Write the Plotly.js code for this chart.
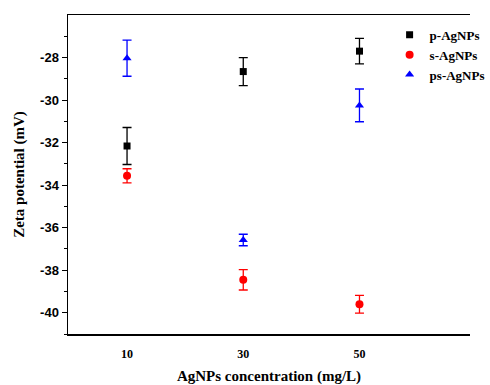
<!DOCTYPE html>
<html>
<head>
<meta charset="utf-8">
<script src="https://cdn.plot.ly/plotly-3.0.1.min.js"></script>
<style>html,body{margin:0;padding:0;background:#fff;}</style>
</head>
<body>
<div id="chart" style="width:490px;height:385px;"></div>
<script>
const concentrations = [10, 30, 50];
const pValues = [-32.16, -28.66, -27.70];
const pErrors = [0.87, 0.66, 0.60];
const sValues = [-33.56, -38.45, -39.60];
const sErrors = [0.33, 0.48, 0.42];
const psValues = [-28.03, -36.58, -30.25];
const psErrors = [0.85, 0.27, 0.77];
const xTickLabels = ['10', '30', '50'];
const yTickValues = [-40, -38, -36, -34, -32, -30, -28];
const yTickLabels = ['-40', '-38', '-36', '-34', '-32', '-30', '-28'];

function series(name, y, err, color, symbol, size) {
  return {
    type: 'scatter', mode: 'markers', name: name,
    x: concentrations, y: y,
    marker: {color: color, symbol: symbol, size: size},
    error_y: {type: 'data', array: err, visible: true, color: color, thickness: 1.3, width: 4.5}
  };
}

const data = [
  series('p-AgNPs', pValues, pErrors, '#000000', 'square', 7),
  series('s-AgNPs', sValues, sErrors, '#ff0000', 'circle', 8),
  series('ps-AgNPs', psValues, psErrors, '#0000ff', 'triangle-up', 8)
];

const layout = {
  width: 490, height: 385,
  margin: {l: 68, r: 0, t: 15, b: 51},
  paper_bgcolor: '#fff', plot_bgcolor: '#fff',
  showlegend: true,
  legend: {x: 0.8, y: 0.985, xanchor: 'left', yanchor: 'top', bgcolor: 'rgba(0,0,0,0)',
           font: {family: 'Liberation Serif, Times New Roman, serif', size: 13, color: '#000', weight: 'bold'},
           itemwidth: 30, tracegroupgap: 0},
  xaxis: {
    range: [-0.16, 69.02], tickmode: 'array', tickvals: concentrations, ticktext: xTickLabels,
    showgrid: false, zeroline: false, showline: true, linecolor: '#000', linewidth: 1.5,
    mirror: true, ticks: '', ticklabelstandoff: 8,
    tickfont: {family: 'Liberation Serif, Times New Roman, serif', size: 12, color: '#000', weight: 'bold'},
    title: {text: 'AgNPs concentration (mg/L)', standoff: 10,
            font: {family: 'Liberation Serif, Times New Roman, serif', size: 15, color: '#000', weight: 'bold'}}
  },
  yaxis: {
    range: [-41, -26], tickmode: 'array', tickvals: yTickValues, ticktext: yTickLabels,
    showgrid: false, zeroline: false, showline: true, linecolor: '#000', linewidth: 1.5,
    ticks: 'outside', ticklen: 5, tickwidth: 1, tickcolor: '#000',
    minor: {tickvals: [-41, -39, -37, -35, -33, -31, -29, -27], ticks: 'outside', ticklen: 3, tickcolor: '#000'},
    tickfont: {family: 'Liberation Sans, Arial, sans-serif', size: 13, color: '#000', weight: 'bold'},
    title: {text: 'Zeta potential (mV)', standoff: 12,
            font: {family: 'Liberation Serif, Times New Roman, serif', size: 15, color: '#000', weight: 'bold'}}
  }
};

Plotly.newPlot('chart', data, layout, {displayModeBar: false, staticPlot: true});
</script>
</body>
</html>
